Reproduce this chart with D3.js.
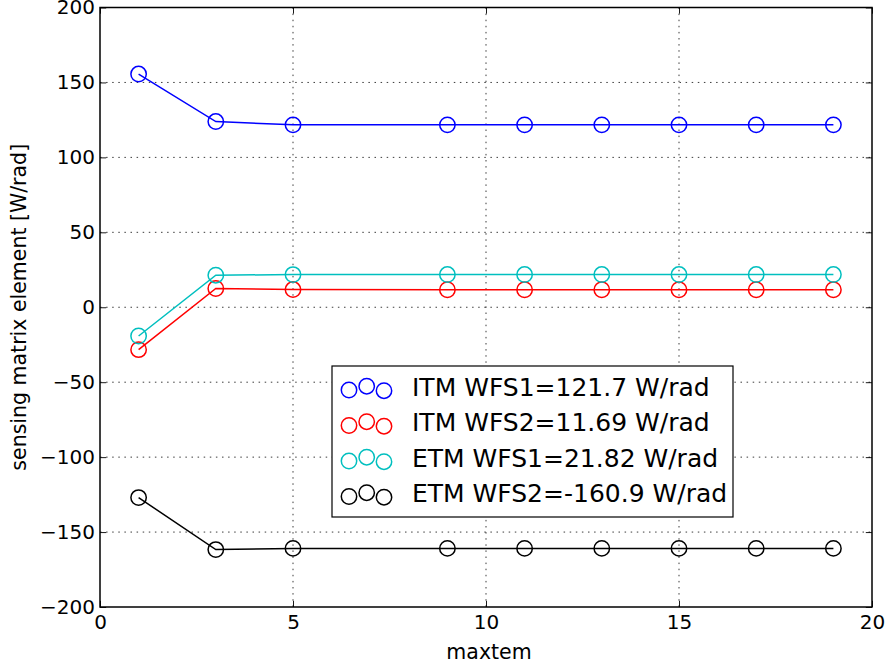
<!DOCTYPE html>
<html>
<head>
<meta charset="utf-8">
<script src="https://cdn.jsdelivr.net/npm/d3@7"></script>
<style>
  html, body { margin: 0; padding: 0; background: #fff; }
  svg { display: block; font-family: "DejaVu Sans", sans-serif; }
</style>
</head>
<body>
<svg id="chart" width="889" height="669"></svg>
<script>
// ---- data ----
const maxtem = [1, 3, 5, 9, 11, 13, 15, 17, 19];
const itmWfs1 = [155.6, 123.9, 121.7, 121.7, 121.7, 121.7, 121.7, 121.7, 121.7];
const itmWfs2 = [-28.3, 12.5, 11.8, 11.7, 11.69, 11.69, 11.69, 11.69, 11.69];
const etmWfs1 = [-19.2, 21.4, 21.8, 21.82, 21.82, 21.82, 21.82, 21.82, 21.82];
const etmWfs2 = [-127.0, -161.7, -160.9, -160.9, -160.9, -160.9, -160.9, -160.9, -160.9];
const seriesNames = ["ITM WFS1=121.7 W/rad", "ITM WFS2=11.69 W/rad", "ETM WFS1=21.82 W/rad", "ETM WFS2=-160.9 W/rad"];
const seriesColors = ["#0000ff", "#ff0000", "#00bfbf", "#000000"];
const xTicks = [0, 5, 10, 15, 20];
const yTicks = [-200, -150, -100, -50, 0, 50, 100, 150, 200];
const xLabel = "maxtem";
const yLabel = "sensing matrix element [W/rad]";

const seriesValues = [itmWfs1, itmWfs2, etmWfs1, etmWfs2];

// ---- layout ----
const L = 100, R = 872, T = 7.5, B = 607;
const svg = d3.select("#chart");
const x = d3.scaleLinear().domain([0, 20]).range([L, R]);
const y = d3.scaleLinear().domain([-200, 200]).range([B, T]);

// grid
const grid = svg.append("g").attr("stroke", "#000").attr("stroke-width", 0.77).attr("stroke-dasharray", "1.5,4.6");
grid.selectAll("line.gx").data(xTicks.slice(1, -1)).join("line")
  .attr("x1", d => x(d)).attr("x2", d => x(d)).attr("y1", T).attr("y2", B);
grid.selectAll("line.gy").data(yTicks.slice(1, -1)).join("line")
  .attr("y1", d => y(d)).attr("y2", d => y(d)).attr("x1", L).attr("x2", R);

// axes
const tickLen = 6.2;
const fmt = d3.format("");
function styleAxis(g) {
  g.select(".domain").remove();
  g.selectAll(".tick line").attr("stroke", "#000").attr("stroke-width", 0.9);
  g.selectAll(".tick text").attr("fill", "#000").attr("font-size", "20px")
    .attr("font-family", "DejaVu Sans, sans-serif");
}
svg.append("g").attr("transform", `translate(0,${B})`)
  .call(d3.axisBottom(x).tickValues(xTicks).tickSize(-tickLen).tickPadding(8).tickFormat(fmt))
  .call(styleAxis);
svg.append("g").attr("transform", `translate(0,${T})`)
  .call(d3.axisTop(x).tickValues(xTicks).tickSize(-tickLen).tickFormat(""))
  .call(styleAxis);
svg.append("g").attr("transform", `translate(${L},0)`)
  .call(d3.axisLeft(y).tickValues(yTicks).tickSize(-tickLen).tickPadding(5).tickFormat(d3.format("")))
  .call(styleAxis);
svg.append("g").attr("transform", `translate(${R},0)`)
  .call(d3.axisRight(y).tickValues(yTicks).tickSize(-tickLen).tickFormat(""))
  .call(styleAxis);

// series
const line = d3.line().x((d, i) => x(maxtem[i])).y(d => y(d));
seriesValues.forEach((vals, si) => {
  const g = svg.append("g");
  g.append("path").attr("d", line(vals)).attr("fill", "none")
    .attr("stroke", seriesColors[si]).attr("stroke-width", 1.5);
  g.selectAll("circle").data(vals).join("circle")
    .attr("cx", (d, i) => x(maxtem[i])).attr("cy", d => y(d)).attr("r", 7.7)
    .attr("fill", "none").attr("stroke", seriesColors[si]).attr("stroke-width", 1.5);
});

// frame
svg.append("rect").attr("x", L).attr("y", T).attr("width", R - L).attr("height", B - T)
  .attr("fill", "none").attr("stroke", "#000").attr("stroke-width", 1.5);

// axis labels
svg.append("text").attr("x", (L + R) / 2 + 3).attr("y", 659).attr("text-anchor", "middle")
  .attr("font-size", "20.5px").text(xLabel);
svg.append("text").attr("transform", `translate(25.5,${(T + B) / 2}) rotate(-90)`)
  .attr("text-anchor", "middle").attr("font-size", "20.5px").text(yLabel);

// legend
const lg = svg.append("g");
lg.append("rect").attr("x", 332).attr("y", 366).attr("width", 401).attr("height", 151)
  .attr("fill", "#fff").attr("stroke", "#000").attr("stroke-width", 1.2);
const rowY0 = 388, rowStep = 35.5;
const markerDx = [349, 366.7, 384];
const markerDy = [2, -1.8, 2.7];
seriesNames.forEach((name, si) => {
  const cy = rowY0 + si * rowStep;
  markerDx.forEach((mx, k) => {
    lg.append("circle").attr("cx", mx).attr("cy", cy + markerDy[k]).attr("r", 7.7)
      .attr("fill", "none").attr("stroke", seriesColors[si]).attr("stroke-width", 1.5);
  });
  lg.append("text").attr("x", 412).attr("y", cy + 7.5).attr("font-size", "25px")
    .attr("fill", "#000").text(name);
});
</script>
</body>
</html>
